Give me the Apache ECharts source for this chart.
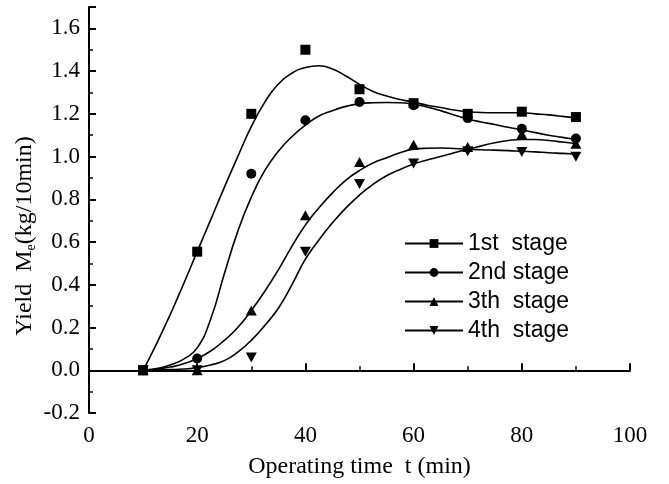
<!DOCTYPE html>
<html>
<head>
<meta charset="utf-8">
<script src="https://cdn.jsdelivr.net/npm/echarts@6/dist/echarts.min.js"></script>
<style>
html,body{margin:0;padding:0;background:#fff;}
#chart{width:669px;height:484px;}
</style>
</head>
<body>
<div id="chart"></div>
<script>
// Measured points
const tPoints = [10, 20, 30, 40, 50, 60, 70, 80, 90];
const stage1 = [0, 0.555, 1.20, 1.50, 1.315, 1.25, 1.20, 1.21, 1.185];
const stage2 = [0, 0.055, 0.92, 1.17, 1.255, 1.24, 1.18, 1.13, 1.085];
const stage3 = [0, 0, 0.28, 0.725, 0.975, 1.055, 1.045, 1.105, 1.06];
const stage4 = [0, 0, 0.06, 0.555, 0.872, 0.968, 1.025, 1.022, 0.999];

// Fitted curves
const curveT = [10, 12.5, 15, 17.5, 20, 22.5, 25, 27.5, 30, 32.5, 35, 37.5, 40, 42.5, 45, 47.5, 50, 52.5, 55, 57.5, 60, 62.5, 65, 67.5, 70, 72.5, 75, 77.5, 80, 82.5, 85, 87.5, 90];
const fit1 = [0, 0.125, 0.26, 0.405, 0.555, 0.705, 0.855, 1.0, 1.14, 1.255, 1.34, 1.39, 1.417, 1.425, 1.41, 1.377, 1.338, 1.305, 1.283, 1.267, 1.255, 1.24, 1.23, 1.218, 1.21, 1.206, 1.205, 1.205, 1.205, 1.2, 1.195, 1.188, 1.18];
const fit2 = [0, 0.008, 0.025, 0.052, 0.105, 0.24, 0.45, 0.65, 0.81, 0.935, 1.025, 1.093, 1.147, 1.19, 1.215, 1.235, 1.248, 1.252, 1.253, 1.252, 1.245, 1.232, 1.215, 1.195, 1.176, 1.162, 1.15, 1.137, 1.125, 1.112, 1.10, 1.09, 1.08];
const fit3 = [0, 0.005, 0.015, 0.03, 0.055, 0.09, 0.14, 0.20, 0.28, 0.37, 0.47, 0.58, 0.68, 0.76, 0.83, 0.89, 0.935, 0.97, 0.995, 1.018, 1.035, 1.039, 1.04, 1.038, 1.035, 1.032, 1.03, 1.028, 1.025, 1.022, 1.018, 1.015, 1.012];
const fit4 = [0, 0.001, 0.003, 0.006, 0.012, 0.025, 0.045, 0.085, 0.14, 0.21, 0.29, 0.40, 0.52, 0.61, 0.69, 0.76, 0.82, 0.87, 0.91, 0.94, 0.965, 0.984, 1.0, 1.018, 1.035, 1.05, 1.065, 1.075, 1.08, 1.08, 1.075, 1.068, 1.06];

const stageNames = ['1st  stage', '2nd stage', '3th  stage', '4th  stage'];
const xLabelTitle = 'Operating time  t (min)';

const downTri = 'path://M0,0 L10,0 L5,9 Z';
const upTri = 'path://M5,0 L10,9 L0,9 Z';
const symbols = ['rect', 'circle', upTri, downTri];
const symSizes = [10, 10, [11, 10], [11, 10]];
const pts = [stage1, stage2, stage3, stage4];
const fits = [fit1, fit2, fit3, fit4];

const zip = (xs, ys) => xs.map((x, i) => [x, ys[i]]);

const series = [];
fits.forEach((f, i) => {
  series.push({
    name: stageNames[i],
    type: 'line',
    data: zip(curveT, f),
    smooth: 0.5,
    symbol: symbols[i],
    symbolSize: symSizes[i],
    showSymbol: false,
    lineStyle: { color: '#000', width: 1.6 },
    itemStyle: { color: '#000' },
    silent: true,
    z: 2
  });
});
pts.forEach((p, i) => {
  series.push({
    name: 'pts' + i,
    type: 'scatter',
    data: zip(tPoints, p),
    symbol: symbols[i],
    symbolSize: symSizes[i],
    itemStyle: { color: '#000', opacity: 1 },
    silent: true,
    z: 3
  });
});

const chart = echarts.init(document.getElementById('chart'), null, { renderer: 'canvas' });
chart.setOption({
  animation: false,
  backgroundColor: '#fff',
  grid: { left: 89, right: 39, top: 7, bottom: 71, containLabel: false },
  xAxis: {
    type: 'value', min: 0, max: 100, interval: 20,
    name: xLabelTitle, nameLocation: 'middle', nameGap: 42,
    nameTextStyle: { fontFamily: 'Liberation Serif', fontSize: 24, color: '#000' },
    axisLine: { lineStyle: { color: '#000', width: 2 } },
    axisTick: { inside: true, length: 7, lineStyle: { color: '#000', width: 2 } },
    minorTick: { show: true, splitNumber: 2, length: 4, lineStyle: { color: '#000', width: 1.5 } },
    axisLabel: { fontFamily: 'Liberation Serif', fontSize: 23, color: '#000', margin: 11 },
    splitLine: { show: false }
  },
  yAxis: {
    type: 'value', min: -0.2, max: 1.7, interval: 0.2,
    axisLine: { show: true, lineStyle: { color: '#000', width: 2 } },
    axisTick: { show: true, inside: true, length: 7, lineStyle: { color: '#000', width: 2 } },
    minorTick: { show: true, splitNumber: 2, length: 4, lineStyle: { color: '#000', width: 1.5 } },
    axisLabel: { fontFamily: 'Liberation Serif', fontSize: 23, color: '#000', margin: 9, showMaxLabel: false,
      formatter: v => v.toFixed(1) },
    splitLine: { show: false }
  },
  legend: {
    orient: 'vertical', left: 404, top: 232, padding: 0,
    itemWidth: 58, itemHeight: 11, itemGap: 6,
    textStyle: { fontFamily: 'Liberation Sans', fontSize: 23, color: '#000' },
    data: stageNames,
    selectedMode: false
  },
  graphic: [{
    type: 'text',
    x: 25, y: 236,
    rotation: Math.PI / 2,
    style: {
      text: 'Yield  M{sub|e}(kg/10min)',
      fontFamily: 'Liberation Serif',
      fontSize: 24,
      fill: '#000',
      align: 'center',
      verticalAlign: 'middle',
      rich: {
        sub: { fontFamily: 'Liberation Serif', fontSize: 14, fill: '#000', padding: [13, 0, 0, 0] }
      }
    }
  }],
  series: series
});
</script>
</body>
</html>
